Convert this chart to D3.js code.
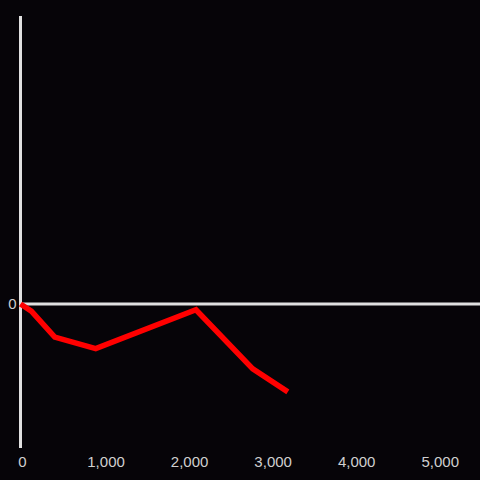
<!DOCTYPE html>
<html>
<head>
<meta charset="utf-8">
<script src="https://cdn.jsdelivr.net/npm/d3@7"></script>
<style>
	body { margin: 0; background: #060408; }
	svg { display: block; }
	.tick text { fill: #d0d0d0; font-family: "Liberation Sans", Arial, sans-serif; font-size: 15px; }
</style>
</head>
<body>
<div id="chart"></div>
<script>
	var xValues = [0, 130, 410, 900, 2100, 2780, 3200];
	var yValues = [0, -0.05, -0.23, -0.31, -0.04, -0.45, -0.61];
	var xTicks = [0, 1000, 2000, 3000, 4000, 5000];
	var yTicks = [0];

	var width = 480, height = 480;

	var x = d3.scaleLinear().domain([0, 5500]).range([20.5, 480]);
	var y = d3.scaleLinear().domain([-1, 2]).range([448, 16]);

	var svg = d3.select("#chart").append("svg")
		.attr("width", width)
		.attr("height", height);

	svg.append("rect")
		.attr("width", width)
		.attr("height", height)
		.attr("fill", "#060408");

	// x labels along the bottom, no tick marks
	var xAxis = svg.append("g")
		.attr("transform", "translate(1.5," + 448 + ")")
		.call(d3.axisBottom(x).tickValues(xTicks).tickFormat(d3.format(",")).tickSize(0));
	xAxis.select(".domain").remove();
	xAxis.selectAll(".tick text").attr("dy", "0.71em").attr("y", 8);

	var yAxis = svg.append("g")
		.attr("transform", "translate(" + x(0) + ",0)")
		.call(d3.axisLeft(y).tickValues(yTicks).tickFormat(d3.format("d")).tickSize(0).tickPadding(4));
	yAxis.select(".domain").remove();

	// axis lines
	svg.append("line")
		.attr("x1", x(0)).attr("x2", x(0))
		.attr("y1", y(2)).attr("y2", y(-1))
		.attr("stroke", "#e0e0e0")
		.attr("stroke-width", 3);

	svg.append("line")
		.attr("x1", x(0)).attr("x2", width)
		.attr("y1", y(0)).attr("y2", y(0))
		.attr("stroke", "#e0e0e0")
		.attr("stroke-width", 3);

	var points = xValues.map(function(d, i) { return [d, yValues[i]]; });

	var line = d3.line()
		.x(function(d) { return x(d[0]); })
		.y(function(d) { return y(d[1]); });

	svg.append("path")
		.datum(points)
		.attr("d", line)
		.attr("fill", "none")
		.attr("stroke", "#ff0000")
		.attr("stroke-width", 5.5);
</script>
</body>
</html>
